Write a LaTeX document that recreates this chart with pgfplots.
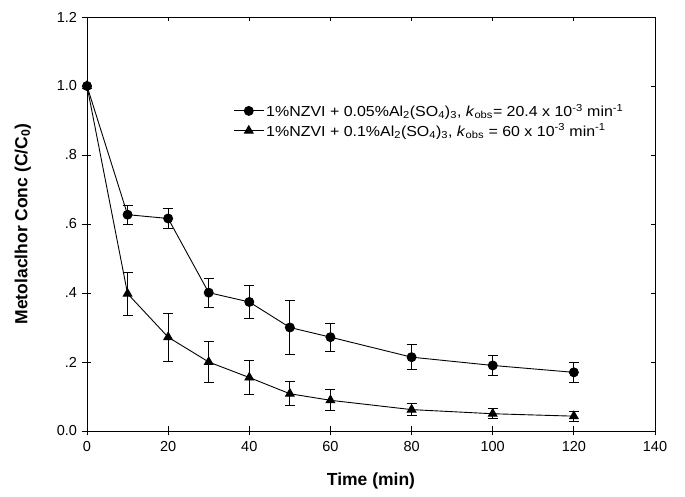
\documentclass[border=0pt]{standalone}
\usepackage{fontspec}
\setmainfont{Liberation Sans}
\newfontfamily\legfont[FakeStretch=1.1]{Liberation Sans}
\usepackage{pgfplots}
\pgfplotsset{compat=1.18}

% time (min), C/C0, standard deviation
\pgfplotstableread{
t    c      e
0    1.000  0.000
10   0.627  0.027
20   0.616  0.028
30   0.401  0.042
40   0.374  0.048
50   0.300  0.077
60   0.272  0.040
80   0.214  0.037
100  0.190  0.030
120  0.170  0.029
}\lowdose
\pgfplotstableread{
t    c      e
0    1.000  0.000
10   0.398  0.062
20   0.272  0.070
30   0.200  0.059
40   0.155  0.049
50   0.108  0.035
60   0.089  0.030
80   0.062  0.017
100  0.050  0.015
120  0.043  0.015
}\highdose

\pgfplotsset{
  frame/.style={scale only axis, width=568pt, height=414pt,
    xmin=0, xmax=140, ymin=0, ymax=1.2,
    xtick={0,20,...,140}, ytick={0,0.2,...,1.2}},
  errs/.style={error bars/.cd, y dir=both, y explicit,
    error bar style={line width=0.9pt},
    error mark options={rotate=90, mark size=5pt, line width=0.9pt}},
}

\begin{document}
\begin{tikzpicture}
\begin{axis}[frame, name=ax,
  yticklabels={0.0,.2,.4,.6,.8,1.0,1.2},
  xtick pos=bottom, ytick pos=left,
  tick align=center, major tick length=9pt,
  tick style={black, line width=0.9pt},
  axis line style={line width=0.9pt},
  /pgf/number format/assume math mode=true,
  ticklabel style={font=\fontsize{14.5}{16}\selectfont},
  xticklabel style={yshift=-2pt},
  yticklabel style={xshift=-2pt},
  xlabel={Time (min)},
  ylabel={Metolaclhor Conc (C/C\textsubscript{0})},
  label style={font=\fontsize{17.5}{20}\selectfont\bfseries},
  xlabel style={at={(axis description cs:0.5,-0.12)}, anchor=center},
  ylabel style={at={(axis description cs:-0.113,0.5)}, anchor=center},
  legend style={draw=none, fill=none, at={(0.252,0.80)}, anchor=north west,
    font=\legfont\fontsize{14.5}{16}\selectfont, row sep=2pt,
    /tikz/every even column/.append style={column sep=8pt}},
  legend cell align=left,
  legend image code/.code={
    \draw[mark repeat=2, mark phase=2]
      plot coordinates {(0pt,0pt) (15pt,0pt) (30pt,0pt)};},
  clip=false,
]
\addplot[black, line width=0.9pt, mark=*, mark size=4.5pt,
  mark options={solid}, errs]
  table[x=t, y=c, y error=e] {\lowdose};
\addplot[black, line width=0.9pt, mark=triangle*, mark size=5pt,
  mark options={solid}, errs]
  table[x=t, y=c, y error=e] {\highdose};
\legend{{1\%NZVI + 0.05\%Al\textsubscript{2}(SO\textsubscript{4})\textsubscript{3}, \textit{k}\textsubscript{obs}= 20.4 x 10\textsuperscript{-3} min\textsuperscript{-1}},
        {1\%NZVI + 0.1\%Al\textsubscript{2}(SO\textsubscript{4})\textsubscript{3}, \textit{k}\textsubscript{obs} = 60 x 10\textsuperscript{-3} min\textsuperscript{-1}}}
\end{axis}
% short inward ticks on the top and right of the frame
\begin{axis}[frame,
  xtick pos=top, ytick pos=right,
  tick align=inside, major tick length=4pt,
  tick style={black, line width=0.9pt},
  axis line style={line width=0.9pt},
  xticklabels={}, yticklabels={},
]
\end{axis}
\pgfresetboundingbox
\path ([shift={(-87pt,-66pt)}]ax.south west) rectangle ([shift={(30pt,17pt)}]ax.north east);
\end{tikzpicture}
\end{document}
